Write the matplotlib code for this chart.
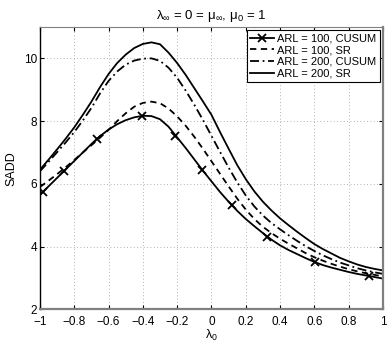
import numpy as np
import matplotlib
matplotlib.use("Agg")
import matplotlib.pyplot as plt
from matplotlib.lines import Line2D

plt.rcParams["font.family"] = ["Liberation Sans", "DejaVu Sans"]
plt.rcParams["mathtext.fontset"] = "custom"
plt.rcParams["mathtext.rm"] = "Liberation Sans"
plt.rcParams["mathtext.default"] = "regular"

# --- data ---
lam0 = [-1.00, -0.95, -0.90, -0.85, -0.80, -0.75, -0.70, -0.65, -0.60, -0.55,
        -0.50, -0.45, -0.40, -0.35, -0.30, -0.25, -0.20, -0.15, -0.10, -0.05,
        0.00, 0.05, 0.10, 0.15, 0.20, 0.25, 0.30, 0.35, 0.40, 0.45,
        0.50, 0.55, 0.60, 0.65, 0.70, 0.75, 0.80, 0.85, 0.90, 0.95, 1.00]

sadd_cusum_100 = [5.65, 5.92, 6.19, 6.46, 6.73, 7.00, 7.27, 7.52, 7.73, 7.90,
                  8.03, 8.12, 8.17, 8.16, 8.06, 7.82, 7.48, 7.14, 6.78, 6.42,
                  6.08, 5.74, 5.43, 5.14, 4.88, 4.65, 4.43, 4.22, 4.04, 3.89,
                  3.76, 3.63, 3.51, 3.41, 3.33, 3.26, 3.19, 3.13, 3.08, 3.03, 2.98]
sadd_sr_100 = [5.90, 6.10, 6.31, 6.53, 6.76, 7.00, 7.23, 7.47, 7.72, 8.00,
               8.25, 8.46, 8.58, 8.62, 8.57, 8.40, 8.15, 7.85, 7.50, 7.12,
               6.72, 6.32, 5.92, 5.53, 5.18, 4.88, 4.63, 4.43, 4.25, 4.09,
               3.94, 3.79, 3.66, 3.55, 3.45, 3.36, 3.28, 3.21, 3.15, 3.10, 3.05]
sadd_cusum_200 = [6.40, 6.70, 7.01, 7.32, 7.65, 8.02, 8.42, 8.88, 9.28, 9.58,
                  9.80, 9.93, 9.99, 10.00, 9.92, 9.70, 9.38, 8.97, 8.52, 8.04,
                  7.53, 7.02, 6.52, 6.05, 5.63, 5.28, 4.99, 4.75, 4.55, 4.36,
                  4.18, 4.01, 3.86, 3.72, 3.60, 3.49, 3.40, 3.31, 3.24, 3.18, 3.13]
sadd_sr_200 = [6.45, 6.77, 7.10, 7.44, 7.80, 8.20, 8.62, 9.08, 9.50, 9.85,
               10.12, 10.33, 10.46, 10.51, 10.45, 10.18, 9.85, 9.47, 9.05, 8.63,
               8.20, 7.65, 7.12, 6.60, 6.15, 5.76, 5.43, 5.15, 4.90, 4.68,
               4.47, 4.27, 4.08, 3.92, 3.78, 3.64, 3.53, 3.43, 3.35, 3.29, 3.24]

# x markers on the ARL = 100, CUSUM curve
mark_x = [-0.985, -0.858, -0.67, -0.407, -0.21, -0.054, 0.117, 0.325, 0.603, 0.917]
mark_y = [5.73, 6.42, 7.43, 8.17, 7.53, 6.45, 5.33, 4.32, 3.50, 3.07]

labels = ["ARL = 100, CUSUM", "ARL = 100, SR", "ARL = 200, CUSUM", "ARL = 200, SR"]

fig = plt.figure(figsize=(3.88, 3.46), dpi=100)
ax = fig.add_axes([0.103, 0.106, 0.884, 0.816])

lw = 1.3
dash = (0, (3.5, 2.5))
dashdot = (0, (5, 2, 1, 2))
ax.plot(lam0, sadd_cusum_100, color="k", lw=lw)
ax.plot(mark_x, mark_y, "kx", ms=6, mew=1.3, ls="none")
ax.plot(lam0, sadd_sr_100, color="k", lw=lw, ls=dash)
ax.plot(lam0, sadd_cusum_200, color="k", lw=lw, ls=dashdot)
ax.plot(lam0, sadd_sr_200, color="k", lw=lw)

handles = [
    Line2D([], [], color="k", lw=lw, marker="x", ms=6, mew=1.3),
    Line2D([], [], color="k", lw=lw, ls=dash),
    Line2D([], [], color="k", lw=lw, ls=dashdot),
    Line2D([], [], color="k", lw=lw),
]
leg = ax.legend(handles, labels, loc="upper right", fontsize=8, frameon=True,
                fancybox=False, edgecolor="k", framealpha=1, handlelength=2.1,
                handletextpad=0.3, borderpad=0.3, labelspacing=0.15,
                borderaxespad=0.3, numpoints=1)
leg.get_frame().set_linewidth(0.8)

ax.set_xlim(-1, 1)
ax.set_ylim(2, 11)
ax.set_xticks(np.arange(-1, 1.01, 0.2))
ax.set_xticklabels(["\u22121", "\u22120.8", "\u22120.6", "\u22120.4", "\u22120.2",
                    "0", "0.2", "0.4", "0.6", "0.8", "1"])
ax.set_yticks([2, 4, 6, 8, 10])
ax.tick_params(direction="in", labelsize=8.5, length=3, top=True, right=True)
ax.tick_params(axis="x", pad=4.5)
ax.tick_params(axis="y", pad=2)
ax.grid(True, ls=(0, (1, 3)), color="#999999", lw=0.6)

for side in ["bottom", "right"]:
    ax.spines[side].set_color("#808080")
    ax.spines[side].set_linewidth(1.6)
ax.spines["top"].set_color("#808080")
ax.spines["top"].set_linewidth(0.8)
ax.spines["left"].set_color("k")
ax.spines["left"].set_linewidth(1.0)

ax.set_title(r"$\lambda_{\infty}$ = 0 = $\mu_{\infty}$, $\mu_0$ = 1", fontsize=9.5, pad=6)
ax.set_xlabel(r"$\lambda_0$", fontsize=9, labelpad=0)
ax.set_ylabel("SADD", fontsize=9, labelpad=5)

fig.savefig("out.png", dpi=100)
